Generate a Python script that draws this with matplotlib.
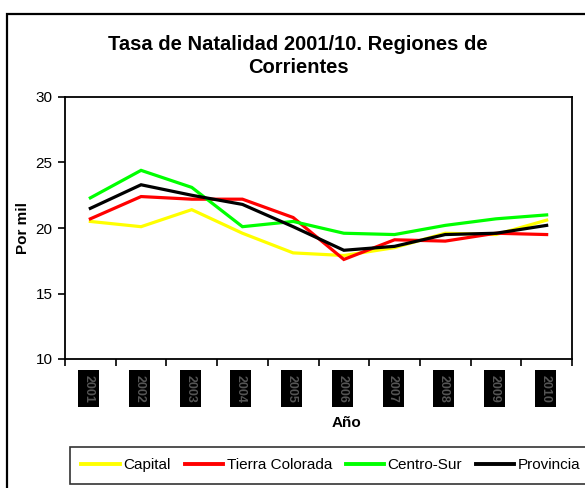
import matplotlib
matplotlib.use("Agg")
import matplotlib.pyplot as plt
from matplotlib.patches import Rectangle

years = ["2001", "2002", "2003", "2004", "2005", "2006", "2007", "2008", "2009", "2010"]
capital = [20.5, 20.1, 21.4, 19.6, 18.1, 17.9, 18.5, 19.6, 19.5, 20.6]
tierra_colorada = [20.7, 22.4, 22.2, 22.2, 20.8, 17.6, 19.1, 19.0, 19.6, 19.5]
centro_sur = [22.3, 24.4, 23.1, 20.1, 20.5, 19.6, 19.5, 20.2, 20.7, 21.0]
provincia = [21.5, 23.3, 22.5, 21.8, 20.1, 18.3, 18.6, 19.5, 19.6, 20.2]

SERIES = [("Capital", capital, "#FFFF00"),
          ("Tierra Colorada", tierra_colorada, "#FF0000"),
          ("Centro-Sur", centro_sur, "#00FF00"),
          ("Provincia", provincia, "#000000")]

plt.rcParams.update({"font.family": ["Liberation Sans", "DejaVu Sans"], "font.size": 11})
fig = plt.figure(figsize=(5.85, 4.88), dpi=100)
ax = fig.add_axes([65 / 585, 1 - 359 / 488, 507 / 585, 262 / 488])

x = list(range(len(years)))
for name, vals, col in SERIES:
    ax.plot(x, vals, color=col, lw=2.3, label=name, solid_joinstyle="miter")

ax.set_xlim(-0.5, len(years) - 0.5)
ax.set_ylim(10, 30)
ax.set_yticks([10, 15, 20, 25, 30])
ax.set_xticks([i - 0.5 for i in range(len(years) + 1)])
ax.set_xticklabels([])
ax.tick_params(axis="both", direction="out", length=5, width=1.2, colors="black")
ax.tick_params(axis="y", labelsize=11, pad=4)
for sp in ax.spines.values():
    sp.set_linewidth(1.3)

# dark boxed, rotated year labels
for i, yr in enumerate(years):
    ax.text(i - 0.03, -0.06, yr, transform=ax.get_xaxis_transform(), rotation=270,
            ha="center", va="top", fontsize=9, color="#555555", fontweight="bold",
            bbox=dict(facecolor="black", edgecolor="none", pad=3.2))

ax.set_ylabel("Por mil", fontsize=11, fontweight="bold", labelpad=4)
fig.text(347 / 585, 1 - 423 / 488, "Año", ha="center", va="center",
         fontsize=11, fontweight="bold")
fig.text(298 / 585, 1 - 56 / 488, "Tasa de Natalidad 2001/10. Regiones de\nCorrientes",
         ha="center", va="center", fontsize=14.5, fontweight="bold", linespacing=1.25)

# outer chart frame (clipped on the right and bottom like the original)
fig.patches.append(Rectangle((7 / 585, -0.1), 1.2, 1 - 14 / 488 + 0.1,
                             transform=fig.transFigure, fill=False, lw=1.6,
                             edgecolor="black"))

leg = fig.legend(loc="upper left", bbox_to_anchor=(70 / 585, 1 - 447 / 488), ncol=4,
                 frameon=True, fancybox=False, edgecolor="black", fontsize=11,
                 handlelength=2.5, handletextpad=0.25, columnspacing=0.9,
                 borderpad=0.75, borderaxespad=0)
leg.get_frame().set_linewidth(1.2)
for h in leg.get_lines():
    h.set_linewidth(2.8)

fig.savefig("out.png", dpi=100, facecolor="white")
